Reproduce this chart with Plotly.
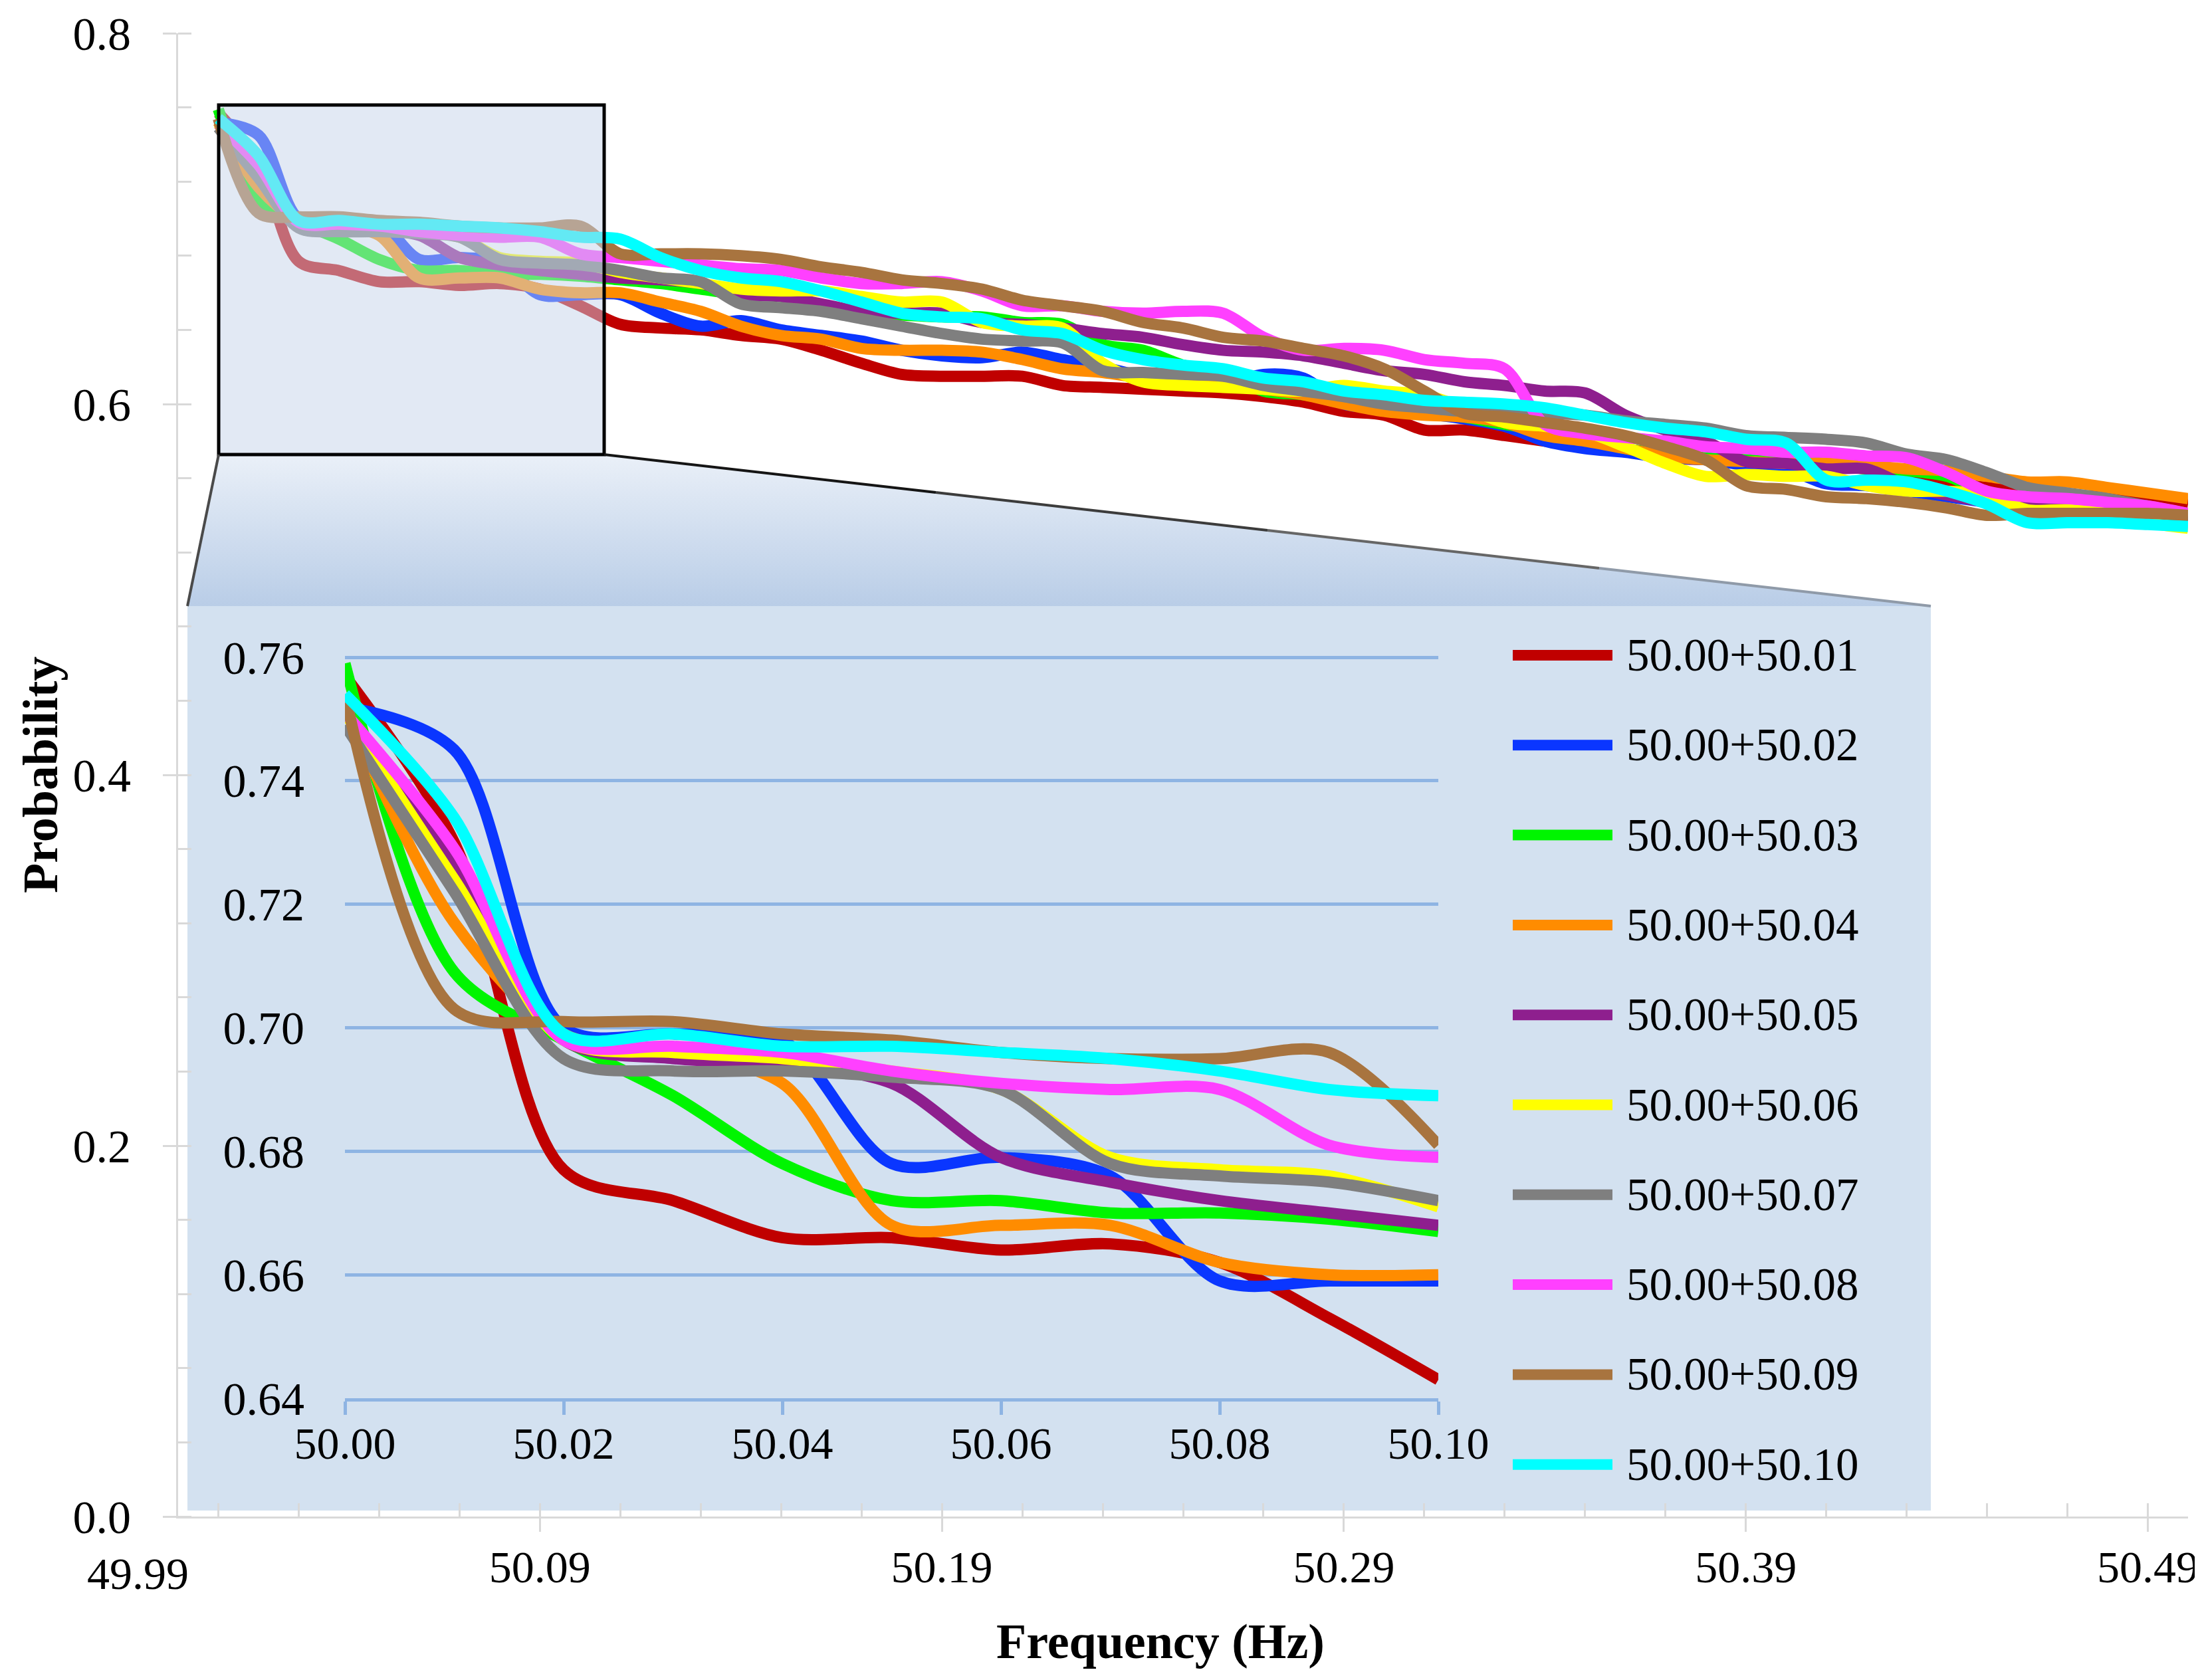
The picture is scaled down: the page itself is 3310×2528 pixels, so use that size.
import plotly.graph_objects as go

# ---------------- data ----------------
# main chart frequencies (category positions) and zoomed-in frequencies
freq_main = [round(50.01 + 0.01 * i, 2) for i in range(50)]
freq_zoom = [round(50.00 + 0.01 * i, 2) for i in range(11)]

series_names = ['50.00+50.01', '50.00+50.02', '50.00+50.03', '50.00+50.04', '50.00+50.05',
                '50.00+50.06', '50.00+50.07', '50.00+50.08', '50.00+50.09', '50.00+50.10']
line_colors = ['#C00000', '#0A36FF', '#00F500', '#FF8C00', '#8E1F8E',
               '#FFFF00', '#7F7F7F', '#FF40FF', '#A8743F', '#00FFFF']

p_0001 = [0.757, 0.730, 0.677, 0.672, 0.666, 0.666, 0.664, 0.665, 0.662, 0.653, 0.643,
          0.641, 0.640, 0.637, 0.635, 0.629, 0.622, 0.616, 0.615, 0.615, 0.615, 0.610, 0.609, 0.608,
          0.607, 0.606, 0.604, 0.601, 0.596, 0.594, 0.586, 0.586, 0.583, 0.580, 0.577, 0.575, 0.571, 0.570,
          0.569, 0.568, 0.567, 0.565, 0.563, 0.558, 0.555, 0.553, 0.551, 0.550, 0.549, 0.546]
p_0002 = [0.752, 0.745, 0.700, 0.699, 0.698, 0.678, 0.679, 0.676, 0.659, 0.659, 0.659,
          0.649, 0.642, 0.645, 0.640, 0.637, 0.634, 0.629, 0.626, 0.625, 0.628, 0.624, 0.620, 0.615,
          0.612, 0.611, 0.616, 0.614, 0.600, 0.598, 0.595, 0.592, 0.588, 0.580, 0.576, 0.574, 0.571, 0.570,
          0.567, 0.565, 0.557, 0.556, 0.553, 0.550, 0.547, 0.544, 0.544, 0.543, 0.541, 0.540]
p_0003 = [0.759, 0.709, 0.698, 0.689, 0.678, 0.672, 0.672, 0.670, 0.670, 0.669, 0.667,
          0.665, 0.662, 0.659, 0.658, 0.653, 0.649, 0.648, 0.647, 0.647, 0.644, 0.643, 0.632, 0.629,
          0.621, 0.617, 0.607, 0.605, 0.601, 0.599, 0.596, 0.593, 0.589, 0.586, 0.581, 0.576, 0.573, 0.571,
          0.570, 0.569, 0.568, 0.565, 0.564, 0.561, 0.552, 0.546, 0.544, 0.543, 0.541, 0.540]
p_0004 = [0.752, 0.717, 0.699, 0.696, 0.691, 0.668, 0.668, 0.668, 0.662, 0.660, 0.660,
          0.655, 0.650, 0.642, 0.637, 0.635, 0.630, 0.629, 0.629, 0.628, 0.624, 0.619, 0.617, 0.614,
          0.612, 0.611, 0.608, 0.605, 0.600, 0.596, 0.594, 0.593, 0.590, 0.583, 0.580, 0.576, 0.572, 0.570,
          0.569, 0.568, 0.568, 0.567, 0.565, 0.564, 0.561, 0.558, 0.558, 0.555, 0.552, 0.549]
p_0005 = [0.751, 0.727, 0.698, 0.695, 0.694, 0.691, 0.679, 0.675, 0.672, 0.670, 0.668,
          0.667, 0.665, 0.659, 0.658, 0.654, 0.650, 0.649, 0.649, 0.644, 0.643, 0.641, 0.638, 0.636,
          0.632, 0.629, 0.628, 0.626, 0.622, 0.618, 0.616, 0.612, 0.610, 0.607, 0.606, 0.594, 0.586, 0.580,
          0.569, 0.568, 0.565, 0.565, 0.556, 0.551, 0.547, 0.544, 0.543, 0.541, 0.541, 0.540]
p_0006 = [0.751, 0.724, 0.698, 0.696, 0.695, 0.693, 0.690, 0.679, 0.677, 0.676, 0.671,
          0.668, 0.665, 0.662, 0.661, 0.661, 0.658, 0.655, 0.655, 0.644, 0.642, 0.641, 0.622, 0.612,
          0.610, 0.609, 0.608, 0.607, 0.610, 0.607, 0.605, 0.598, 0.590, 0.588, 0.585, 0.577, 0.568, 0.561,
          0.562, 0.561, 0.561, 0.556, 0.553, 0.553, 0.551, 0.543, 0.543, 0.541, 0.536, 0.533]
p_0007 = [0.749, 0.722, 0.695, 0.693, 0.693, 0.692, 0.690, 0.678, 0.676, 0.675, 0.672,
          0.668, 0.666, 0.654, 0.652, 0.650, 0.646, 0.642, 0.638, 0.635, 0.634, 0.633, 0.618, 0.617,
          0.616, 0.615, 0.610, 0.607, 0.604, 0.600, 0.598, 0.596, 0.595, 0.595, 0.594, 0.591, 0.589, 0.587,
          0.583, 0.582, 0.581, 0.579, 0.573, 0.570, 0.563, 0.555, 0.552, 0.549, 0.545, 0.541]
p_0008 = [0.751, 0.729, 0.698, 0.697, 0.696, 0.693, 0.691, 0.690, 0.690, 0.681, 0.679,
          0.677, 0.675, 0.673, 0.672, 0.668, 0.665, 0.665, 0.666, 0.661, 0.653, 0.653, 0.650, 0.649,
          0.650, 0.649, 0.636, 0.629, 0.630, 0.629, 0.624, 0.622, 0.619, 0.589, 0.584, 0.582, 0.580, 0.577,
          0.576, 0.574, 0.574, 0.572, 0.571, 0.563, 0.553, 0.550, 0.549, 0.547, 0.545, 0.541]
p_0009 = [0.754, 0.703, 0.701, 0.701, 0.699, 0.698, 0.696, 0.695, 0.695, 0.696, 0.681,
          0.681, 0.681, 0.680, 0.678, 0.674, 0.671, 0.667, 0.665, 0.662, 0.656, 0.653, 0.650, 0.644,
          0.641, 0.636, 0.634, 0.630, 0.626, 0.619, 0.607, 0.595, 0.593, 0.590, 0.587, 0.583, 0.577, 0.570,
          0.556, 0.554, 0.550, 0.549, 0.547, 0.544, 0.540, 0.541, 0.541, 0.541, 0.541, 0.540]
p_0010 = [0.754, 0.734, 0.699, 0.699, 0.697, 0.697, 0.696, 0.695, 0.693, 0.690, 0.689,
          0.679, 0.672, 0.668, 0.666, 0.661, 0.655, 0.649, 0.647, 0.646, 0.640, 0.638, 0.629, 0.624,
          0.621, 0.619, 0.614, 0.612, 0.607, 0.605, 0.602, 0.601, 0.600, 0.598, 0.594, 0.590, 0.587, 0.585,
          0.581, 0.579, 0.559, 0.559, 0.558, 0.553, 0.546, 0.536, 0.536, 0.536, 0.535, 0.534]

series = [p_0001, p_0002, p_0003, p_0004, p_0005, p_0006, p_0007, p_0008, p_0009, p_0010]

main_yticks = [0.0, 0.2, 0.4, 0.6, 0.8]
main_xticks = [50.09, 50.19, 50.29, 50.39, 50.49]
first_xlabel = 49.99
zoom_xticks = [50.00, 50.02, 50.04, 50.06, 50.08, 50.10]
zoom_yticks = [0.64, 0.66, 0.68, 0.70, 0.72, 0.74, 0.76]

# ---------------- page geometry (pixels) ----------------
W, H = 3310, 2528
M_L, M_R, M_T, M_B = 260, 26, 42, 254
PW = W - M_L - M_R
PH = H - M_T - M_B
X_RANGE = [50.00, 50.50]
Y_RANGE = [0.0, 0.8]
ZX_RANGE = [50.00, 50.10]
ZY_RANGE = [0.64, 0.7606]   # a little headroom so the 0.76 gridline is kept

FONT = 'Liberation Serif, Times New Roman, serif'
AXIS_GRAY = '#D9D9D9'
ZOOM_BLUE = '#8EB4E3'


def xp(px):  # pixel -> paper x
    return (px - M_L) / PW


def yp(py):  # pixel -> paper y
    return (H - M_B - py) / PH


def xd(px):  # pixel -> main data x
    return X_RANGE[0] + xp(px) * (X_RANGE[1] - X_RANGE[0])


def yd(py):  # pixel -> main data y
    return Y_RANGE[0] + yp(py) * (Y_RANGE[1] - Y_RANGE[0])


# box on main chart, its projection and the zoom panel
box_l, box_r, box_t, box_b = 321, 901, 150, 676
pan_l, pan_r, pan_t, pan_b = 274, 2897, 904, 2265
# zoom plot: 0.64 at y=2096px, 0.76 at y=981px
zoom_l, zoom_r, zoom_b = 511, 2156, 2096
zoom_t = 981 - (ZY_RANGE[1] - 0.76) / 0.12 * (2096 - 981)

fig = go.Figure()

# gradient band joining the box to the zoom panel
fig.add_trace(go.Scatter(
    x=[xd(box_l), xd(box_r), xd(pan_r), xd(pan_l), xd(box_l)],
    y=[yd(box_b), yd(box_b), yd(pan_t), yd(pan_t), yd(box_b)],
    mode='lines', line=dict(width=0, color='rgba(0,0,0,0)'),
    fill='toself',
    fillgradient=dict(type='vertical', colorscale=[[0, '#B9CDE7'], [1, '#EAF0F8']]),
    hoverinfo='skip', showlegend=False))

# main chart lines
for name, color, vals in zip(series_names, line_colors, series):
    fig.add_trace(go.Scatter(
        x=freq_main, y=vals, name=name, mode='lines',
        line=dict(color=color, width=17, shape='spline', smoothing=0.9),
        showlegend=False))

# zoomed lines (first 11 points)
for name, color, vals in zip(series_names, line_colors, series):
    fig.add_trace(go.Scatter(
        x=freq_zoom, y=vals[:len(freq_zoom)], name=name, mode='lines',
        xaxis='x2', yaxis='y2',
        line=dict(color=color, width=17, shape='spline', smoothing=0.9),
        showlegend=False))

shapes = []
# zoom panel background
shapes.append(dict(type='rect', xref='paper', yref='paper',
                   x0=xp(pan_l), x1=xp(pan_r), y0=yp(pan_b), y1=yp(pan_t),
                   fillcolor='#D3E1F0', line=dict(width=0), layer='below'))
# box over the zoomed region
shapes.append(dict(type='rect', xref='paper', yref='paper',
                   x0=xp(box_l), x1=xp(box_r), y0=yp(box_b), y1=yp(box_t),
                   fillcolor='rgba(198,212,233,0.5)', line=dict(color='black', width=5),
                   layer='above'))
# left edge of projection
shapes.append(dict(type='line', xref='paper', yref='paper',
                   x0=xp(box_l), y0=yp(box_b), x1=xp(pan_l), y1=yp(pan_t),
                   line=dict(color='#4a4a4a', width=4), layer='above'))
# right edge, fading from black to grey
edge_cols = ['#151515', '#3c3c3c', '#666666', '#8f9aa8']
nseg = len(edge_cols)
for k, c in enumerate(edge_cols):
    fa, fb = k / nseg, (k + 1) / nseg
    shapes.append(dict(type='line', xref='paper', yref='paper',
                       x0=xp(box_r + (pan_r - box_r) * fa), y0=yp(box_b + (pan_t - box_b) * fa),
                       x1=xp(box_r + (pan_r - box_r) * fb), y1=yp(box_b + (pan_t - box_b) * fb),
                       line=dict(color=c, width=4), layer='above'))

annotations = []
# legend drawn inside the zoom panel
leg_x0, leg_x1, leg_text_x = 2268, 2418, 2437
leg_y0, leg_dy = 978, 135.3
for k, (name, color) in enumerate(zip(series_names, line_colors)):
    yy = leg_y0 + leg_dy * k
    shapes.append(dict(type='line', xref='paper', yref='paper',
                       x0=xp(leg_x0), x1=xp(leg_x1), y0=yp(yy), y1=yp(yy),
                       line=dict(color=color, width=16), layer='above'))
    annotations.append(dict(xref='paper', yref='paper', x=xp(leg_text_x), y=yp(yy),
                            text=name, showarrow=False, xanchor='left', yanchor='middle',
                            font=dict(family=FONT, size=69, color='black')))

# axis titles and the first x label
annotations.append(dict(xref='paper', yref='paper', x=xp(53), y=yp(1158),
                        text='<b>Probability</b>', textangle=-90, showarrow=False,
                        xanchor='center', yanchor='middle',
                        font=dict(family=FONT, size=74, color='black')))
annotations.append(dict(xref='paper', yref='paper', x=xp(1738), y=yp(2462),
                        text='<b>Frequency (Hz)</b>', showarrow=False,
                        xanchor='center', yanchor='middle',
                        font=dict(family=FONT, size=74, color='black')))
annotations.append(dict(xref='paper', yref='paper',
                        x=(first_xlabel - X_RANGE[0]) / (X_RANGE[1] - X_RANGE[0]),
                        y=yp(2360), text=f'{first_xlabel:.2f}', showarrow=False,
                        xanchor='center', yanchor='middle',
                        font=dict(family=FONT, size=68, color='black')))

fig.update_layout(
    width=W, height=H,
    margin=dict(l=M_L, r=M_R, t=M_T, b=M_B, autoexpand=False),
    paper_bgcolor='white', plot_bgcolor='rgba(0,0,0,0)',
    font=dict(family=FONT, size=70, color='black'),
    showlegend=False,
    shapes=shapes, annotations=annotations,
    xaxis=dict(range=X_RANGE, domain=[0, 1], anchor='y',
               showline=True, linecolor=AXIS_GRAY, linewidth=3,
               ticks='outside', ticklen=20, tickwidth=3, tickcolor=AXIS_GRAY,
               tickmode='array', tickvals=main_xticks, tickformat='.2f',
               tickfont=dict(size=68), ticklabelstandoff=-6,
               minor=dict(ticks='inside', ticklen=20, tickwidth=3, tickcolor=AXIS_GRAY,
                          tick0=49.99, dtick=0.02),
               showgrid=False, zeroline=False),
    yaxis=dict(range=Y_RANGE, domain=[0, 1], anchor='x',
               showline=True, linecolor=AXIS_GRAY, linewidth=3,
               ticks='outside', ticklen=20, tickwidth=3, tickcolor=AXIS_GRAY,
               tickmode='array', tickvals=main_yticks, tickformat='.1f',
               ticklabelstandoff=34,
               minor=dict(ticks='inside', ticklen=20, tickwidth=3, tickcolor=AXIS_GRAY,
                          tick0=0, dtick=0.04),
               showgrid=False, zeroline=False),
    xaxis2=dict(range=ZX_RANGE, domain=[xp(zoom_l), xp(zoom_r)], anchor='y2',
                showline=True, linecolor=ZOOM_BLUE, linewidth=5,
                ticks='outside', ticklen=20, tickwidth=5, tickcolor=ZOOM_BLUE,
                tickmode='array', tickvals=zoom_xticks, tickformat='.2f',
                tickfont=dict(size=68), ticklabelstandoff=-16,
                showgrid=False, zeroline=False),
    yaxis2=dict(range=ZY_RANGE, domain=[yp(zoom_b), yp(zoom_t)], anchor='x2',
                showline=False, ticks='',
                tickmode='array', tickvals=zoom_yticks, tickformat='.2f',
                ticklabelstandoff=60,
                showgrid=True, gridcolor=ZOOM_BLUE, gridwidth=5, zeroline=False),
)

fig.write_html("out.html")
